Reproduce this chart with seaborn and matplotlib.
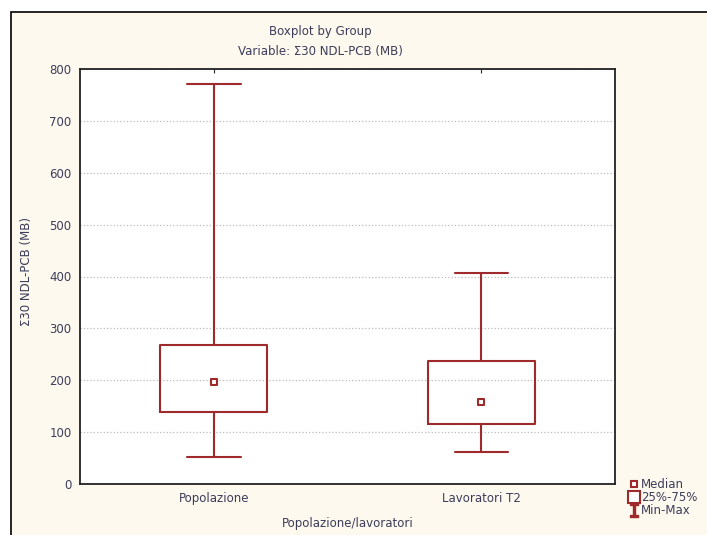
import seaborn as sns
import pandas as pd
import matplotlib
matplotlib.use('Agg')
import matplotlib.pyplot as plt
from matplotlib.lines import Line2D
from matplotlib.patches import Rectangle

# valori (min, 25%, mediana, 75%, max)
gruppi = ['Popolazione', 'Lavoratori T2']
minimo = [52, 62]
q1 = [138, 115]
mediana = [196, 158]
q3 = [267, 237]
massimo = [772, 406]

# 5 valori per gruppo: i quartili di 5 punti coincidono con q1/mediana/q3
righe = []
for i, g in enumerate(gruppi):
    for v in [minimo[i], q1[i], mediana[i], q3[i], massimo[i]]:
        righe.append({'gruppo': g, 'valore': v})
df = pd.DataFrame(righe)
df_med = pd.DataFrame({'gruppo': gruppi, 'mediana': mediana})

sns.set_style('white')
plt.rcParams['font.family'] = ['DejaVu Sans']
plt.rcParams['font.size'] = 8.5

rosso = '#9e2a2b'
testo = '#3c3c5a'
crema = '#fdf9ee'
fs = 8.5

fig = plt.figure(figsize=(7.07, 5.35), dpi=100)
fig.patch.set_facecolor('white')
fig.add_artist(Rectangle((11 / 707, -0.1), 1.2, 1 - 12 / 535 + 0.1,
                         transform=fig.transFigure, facecolor=crema,
                         edgecolor='black', linewidth=1.2, zorder=-10))

ax = fig.add_axes([80 / 707, 1 - 484 / 535, 535 / 707, 415 / 535])
ax.set_facecolor('white')

sns.boxplot(data=df, x='gruppo', y='valore', whis=(0, 100), width=0.4,
            fill=False, color=rosso, linewidth=1.5,
            medianprops={'linewidth': 0}, ax=ax)
sns.scatterplot(data=df_med, x='gruppo', y='mediana', marker='s', s=18,
                facecolor='white', edgecolor=rosso, linewidth=1.5,
                zorder=5, ax=ax)

ax.set_xlim(-0.5, 1.5)
ax.set_ylim(0, 800)
ax.set_yticks(range(0, 801, 100))
ax.yaxis.grid(True, linestyle=':', color='#bbbbbb', linewidth=0.9)
ax.set_axisbelow(True)
ax.tick_params(direction='in', length=3, top=True, right=False,
               labelcolor=testo, labelsize=fs)
ax.tick_params(axis='y', pad=6)
ax.tick_params(axis='x', pad=5.5)
ax.set_xlabel('')
ax.set_ylabel('')
for s in ax.spines.values():
    s.set_visible(True)
    s.set_color('#222222')
    s.set_linewidth(1.3)

fig.text(320 / 707, 1 - 31 / 535, 'Boxplot by Group', ha='center', va='center',
         color=testo, fontsize=fs)
fig.text(320 / 707, 1 - 51 / 535, 'Variable: Σ30 NDL-PCB (MB)', ha='center',
         va='center', color=testo, fontsize=fs)
fig.text(27 / 707, 1 - 272 / 535, 'Σ30 NDL-PCB (MB)', rotation=90, ha='center',
         va='center', color=testo, fontsize=fs)
fig.text(348 / 707, 1 - 523 / 535, 'Popolazione/lavoratori', ha='center',
         va='center', color=testo, fontsize=fs)

maniglie = [
    Line2D([], [], marker='s', ms=4, mfc='white', mec=rosso, mew=1.5, ls='none'),
    Line2D([], [], marker='s', ms=8, mfc='white', mec=rosso, mew=1.5, ls='none'),
    Line2D([], [], marker=r'$\mathtt{I}$', ms=10, color=rosso, ls='none'),
]
leg = ax.legend(maniglie, ['Median', '25%-75%', 'Min-Max'], loc='upper left',
                bbox_to_anchor=(623 / 707, 1 - 472 / 535),
                bbox_transform=fig.transFigure, frameon=False,
                handlelength=0.8, handletextpad=0.2, labelspacing=0.02,
                borderpad=0, fontsize=fs)
for t in leg.get_texts():
    t.set_color(testo)

fig.savefig('out.png', dpi=100)
